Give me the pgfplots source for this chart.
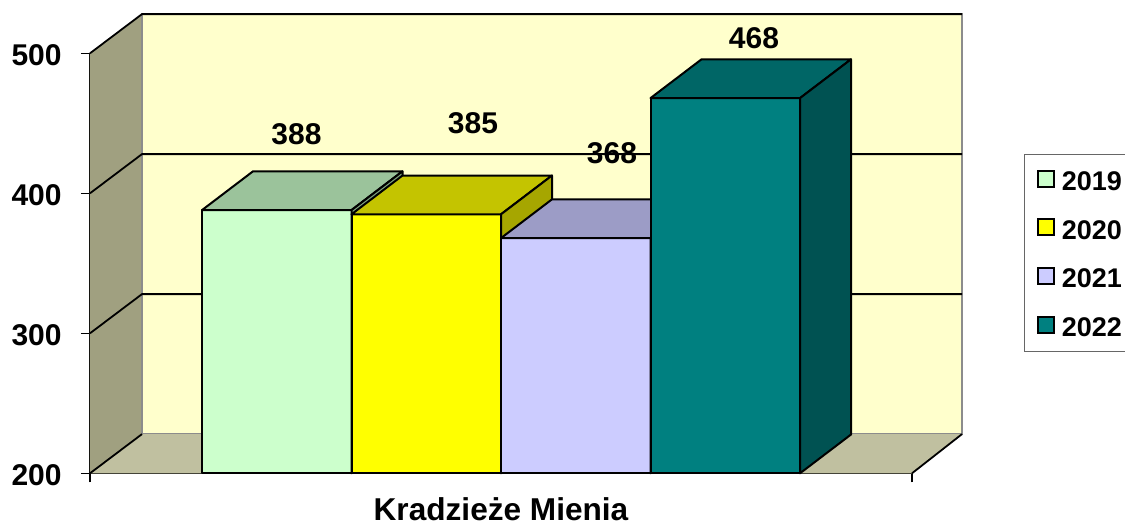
\documentclass[border=0pt]{standalone}
\usepackage{fontspec}
\setmainfont{Liberation Sans}
\usepackage{pgfplots}
\pgfplotsset{compat=1.18}
\definecolor{lwall}{HTML}{A0A080}
\definecolor{bwall}{HTML}{FFFFCC}
\definecolor{floorc}{HTML}{C0C0A0}
\definecolor{fA}{HTML}{CCFFCC}\definecolor{tA}{HTML}{9BC39B}\definecolor{sA}{HTML}{80A380}
\definecolor{fB}{HTML}{FFFF00}\definecolor{tB}{HTML}{C4C400}\definecolor{sB}{HTML}{A6A600}
\definecolor{fC}{HTML}{CCCCFF}\definecolor{tC}{HTML}{9C9CC6}\definecolor{sC}{HTML}{8080A8}
\definecolor{fD}{HTML}{008080}\definecolor{tD}{HTML}{006666}\definecolor{sD}{HTML}{005252}
\begin{document}
\begin{tikzpicture}
\begin{axis}[name=a,
  scale only axis, width=411pt, height=210pt,
  xmin=90, xmax=912, ymin=200, ymax=500, enlargelimits=false,
  clip=false,
  axis lines*=left,
  axis line style={line width=1pt, black},
  xtick={90,912}, xticklabels={},
  ytick={200,300,400,500},
  xtick pos=left, ytick pos=left,
  tick align=outside, major tick length=4.5pt,
  tick style={black, line width=0.6pt},
  /pgf/number format/assume math mode=true,
  ticklabel style={font=\bfseries\fontsize{15}{18}\selectfont},
  yticklabel style={inner sep=0pt, anchor=east, xshift=-9.5pt, yshift=-1pt},
  xlabel={Kradzieże Mienia},
  xlabel style={font=\bfseries\fontsize{15.8}{19}\selectfont, at={(axis description cs:0.5,0)}, anchor=base, yshift=-23.4pt, inner sep=0pt},
  legend image code/.code={\draw[#1, draw=black, line width=1pt] (0pt,-3pt) rectangle (8pt,5pt);},
  legend style={at={(axis description cs:1.1363,0.7602)}, anchor=north west,
    font=\bfseries\fontsize{13.5}{16}\selectfont, draw=black!60, line width=0.7pt,
    inner xsep=6pt, inner ysep=7.5pt, row sep=13.8pt,
    nodes={inner sep=0pt, text height=10pt, text depth=0pt},
    /tikz/every odd column/.style={column sep=3.5pt}},
  legend cell align=left,
]
% walls and floor
\addplot[fill=lwall, draw=none, forget plot] coordinates {(90,200)(90,500)(142,528)(142,228)} -- cycle;
\addplot[fill=bwall, draw=black!45, line width=0.8pt, forget plot] coordinates {(142,228)(142,528)(962,528)(962,228)} -- cycle;
\addplot[fill=floorc, draw=none, forget plot] coordinates {(90,200)(142,228)(962,228)(912,200)} -- cycle;
\addplot[draw=black, line width=0.9pt, forget plot] coordinates {(90,200)(142,228)};
\addplot[draw=black, line width=0.9pt, forget plot] coordinates {(912,200)(962,228)};
% gridlines
\addplot[draw=black, line width=0.9pt, forget plot] coordinates {(90,300)(142,328)(962,328)};
\addplot[draw=black, line width=0.9pt, forget plot] coordinates {(90,400)(142,428)(962,428)};
\addplot[draw=black, line width=0.9pt, forget plot] coordinates {(90,500)(142,528)(962,528)};
% 2019
\addplot[fill=fA, draw=black, line width=1pt, line join=round, forget plot] coordinates {(202,200)(202,388)(351.5,388)(351.5,200)} -- cycle;
\addplot[fill=tA, draw=black, line width=1pt, line join=round, forget plot] coordinates {(202,388)(253,415.7)(402.5,415.7)(351.5,388)} -- cycle;
\addplot[fill=sA, draw=black, line width=1pt, line join=round, forget plot] coordinates {(351.5,200)(351.5,388)(402.5,415.7)(402.5,227.7)} -- cycle;
% 2020
\addplot[fill=fB, draw=black, line width=1pt, line join=round, forget plot] coordinates {(351.5,200)(351.5,385)(501,385)(501,200)} -- cycle;
\addplot[fill=tB, draw=black, line width=1pt, line join=round, forget plot] coordinates {(351.5,385)(402.5,412.7)(552,412.7)(501,385)} -- cycle;
\addplot[fill=sB, draw=black, line width=1pt, line join=round, forget plot] coordinates {(501,200)(501,385)(552,412.7)(552,227.7)} -- cycle;
% 2021
\addplot[fill=fC, draw=black, line width=1pt, line join=round, forget plot] coordinates {(501,200)(501,368)(650.5,368)(650.5,200)} -- cycle;
\addplot[fill=tC, draw=black, line width=1pt, line join=round, forget plot] coordinates {(501,368)(552,395.7)(701.5,395.7)(650.5,368)} -- cycle;
\addplot[fill=sC, draw=black, line width=1pt, line join=round, forget plot] coordinates {(650.5,200)(650.5,368)(701.5,395.7)(701.5,227.7)} -- cycle;
% 2022
\addplot[fill=fD, draw=black, line width=1pt, line join=round, forget plot] coordinates {(650.5,200)(650.5,468)(800,468)(800,200)} -- cycle;
\addplot[fill=tD, draw=black, line width=1pt, line join=round, forget plot] coordinates {(650.5,468)(701.5,495.7)(851,495.7)(800,468)} -- cycle;
\addplot[fill=sD, draw=black, line width=1pt, line join=round, forget plot] coordinates {(800,200)(800,468)(851,495.7)(851,227.7)} -- cycle;
% value labels
\node[font=\bfseries\fontsize{15}{18}\selectfont, inner sep=0pt] at (axis cs:296.5,442.4) {388};
\node[font=\bfseries\fontsize{15}{18}\selectfont, inner sep=0pt] at (axis cs:473,450.2) {385};
\node[font=\bfseries\fontsize{15}{18}\selectfont, inner sep=0pt] at (axis cs:612,428.8) {368};
\node[font=\bfseries\fontsize{15}{18}\selectfont, inner sep=0pt] at (axis cs:754,511.0) {468};
% legend
\addlegendimage{fill=fA}\addlegendentry{2019}
\addlegendimage{fill=fB}\addlegendentry{2020}
\addlegendimage{fill=fC}\addlegendentry{2021}
\addlegendimage{fill=fD}\addlegendentry{2022}
\end{axis}
\pgfresetboundingbox
\path[use as bounding box] ([xshift=-45pt,yshift=-26.35pt]a.south west) rectangle ++(562.5pt,263pt);
\end{tikzpicture}
\end{document}
